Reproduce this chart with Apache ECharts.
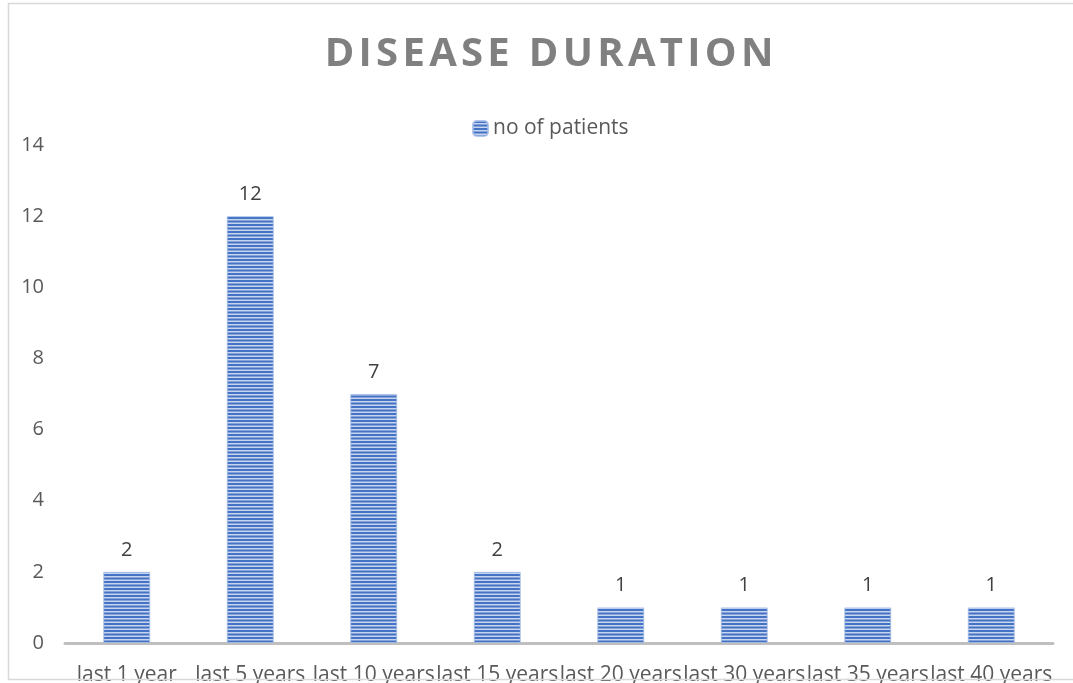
<!DOCTYPE html>
<html>
<head>
<meta charset="utf-8">
<script src="https://cdn.jsdelivr.net/npm/echarts@6/dist/echarts.min.js"></script>
<style>
  html, body { margin: 0; padding: 0; background: #ffffff; }
  #chart { width: 1073px; height: 683px; }
</style>
</head>
<body>
<div id="chart"></div>
<script>
// Disease duration: number of patients per duration bucket
const categories = ['last 1 year', 'last 5 years', 'last 10 years', 'last 15 years',
                    'last 20 years', 'last 30 years', 'last 35 years', 'last 40 years'];
const patients = [2, 12, 7, 2, 1, 1, 1, 1];
const seriesName = 'no of patients';
const chartTitle = 'DISEASE DURATION';

// Spaced-out letters for the title only (tracked heading style)
(function () {
  const proto = CanvasRenderingContext2D.prototype;
  const origFill = proto.fillText;
  proto.fillText = function (text, x, y, maxW) {
    if (this.font && this.font.indexOf('bold 40px') !== -1 && 'letterSpacing' in this) {
      const prev = this.letterSpacing;
      this.letterSpacing = '4.3px';
      const r = maxW === undefined ? origFill.call(this, text, x + 2.2, y) : origFill.call(this, text, x + 2.2, y, maxW);
      this.letterSpacing = prev;
      return r;
    }
    return maxW === undefined ? origFill.call(this, text, x, y) : origFill.call(this, text, x, y, maxW);
  };
})();

// Horizontal stripe fill for the bars (narrow horizontal line pattern)
function stripeTile() {
  const c = document.createElement('canvas');
  c.width = 8; c.height = 7;
  const ctx = c.getContext('2d');
  ctx.fillStyle = '#c7d5ee';
  ctx.fillRect(0, 0, 8, 7);
  ctx.fillStyle = '#4472c4';
  ctx.fillRect(0, 0, 8, 2);
  ctx.fillRect(0, 3.5, 8, 2);
  return c;
}
const stripes = { image: stripeTile(), repeat: 'repeat' };

const chart = echarts.init(document.getElementById('chart'), null, { renderer: 'canvas' });

chart.setOption({
  backgroundColor: '#ffffff',
  animation: false,
  title: {
    text: chartTitle,
    left: 544,
    textAlign: 'center',
    top: 30,
    textStyle: {
      fontFamily: 'Open Sans',
      fontWeight: 'bold',
      fontSize: 40,
      color: '#808080'
    }
  },
  legend: {
    data: [seriesName],
    left: 467,
    top: 113,
    itemWidth: 15,
    itemHeight: 15,
    itemGap: 5,
    textStyle: { fontFamily: 'Open Sans', fontSize: 21, color: '#595959' }
  },
  grid: {
    left: 65, right: 20, top: 145, bottom: 40,
    containLabel: false,
    outerBoundsMode: 'none'
  },
  xAxis: {
    type: 'category',
    data: categories,
    axisLine: { lineStyle: { color: '#bfbfbf', width: 3 } },
    axisTick: { show: false },
    axisLabel: {
      interval: 0,
      margin: 22,
      fontFamily: 'Open Sans',
      fontSize: 21,
      color: '#595959'
    }
  },
  yAxis: {
    type: 'value',
    min: 0,
    max: 14,
    interval: 2,
    axisLine: { show: false },
    axisTick: { show: false },
    splitLine: { show: false },
    axisLabel: {
      margin: 21,
      fontFamily: 'Open Sans',
      fontSize: 20,
      color: '#595959'
    }
  },
  series: [{
    name: seriesName,
    type: 'bar',
    data: patients,
    barWidth: '38%',
    itemStyle: {
      color: stripes,
      borderColor: 'rgba(160,185,230,0.8)',
      borderWidth: 1
    },
    label: {
      show: true,
      position: 'top',
      distance: 12,
      fontFamily: 'Open Sans',
      fontSize: 20,
      color: '#404040'
    }
  }],
  graphic: [{
    type: 'rect',
    silent: true,
    shape: { x: 8.5, y: 3.5, width: 1100, height: 676 },
    style: { fill: 'none', stroke: '#d9d9d9', lineWidth: 1.5 },
    z: 100
  }]
});
</script>
</body>
</html>
